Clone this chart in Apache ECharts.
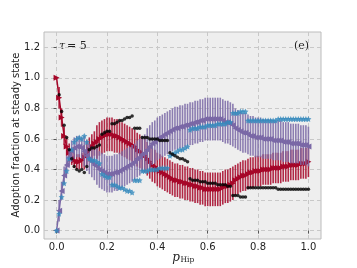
<!DOCTYPE html>
<html>
<head>
<meta charset="utf-8">
<script src="https://cdn.jsdelivr.net/npm/echarts@6/dist/echarts.min.js"></script>
<style>html,body{margin:0;padding:0;background:#fff}#c{width:357px;height:268px}</style>
</head>
<body>
<div id="c"></div>
<script>
var pHip = [
0.00,0.01,0.02,0.03,0.04,0.05,0.06,0.07,0.08,0.09,
0.10,0.11,0.12,0.13,0.14,0.15,0.16,0.17,0.18,0.19,
0.20,0.21,0.22,0.23,0.24,0.25,0.26,0.27,0.28,0.29,
0.30,0.31,0.32,0.33,0.34,0.35,0.36,0.37,0.38,0.39,
0.40,0.41,0.42,0.43,0.44,0.45,0.46,0.47,0.48,0.49,
0.50,0.51,0.52,0.53,0.54,0.55,0.56,0.57,0.58,0.59,
0.60,0.61,0.62,0.63,0.64,0.65,0.66,0.67,0.68,0.69,
0.70,0.71,0.72,0.73,0.74,0.75,0.76,0.77,0.78,0.79,
0.80,0.81,0.82,0.83,0.84,0.85,0.86,0.87,0.88,0.89,
0.90,0.91,0.92,0.93,0.94,0.95,0.96,0.97,0.98,0.99,
1.00];

var redMean = [
1.00,0.87,0.74,0.62,0.55,0.51,0.48,0.46,0.45,0.45,
0.46,0.48,0.51,0.53,0.55,0.57,0.58,0.60,0.61,0.62,
0.63,0.63,0.63,0.62,0.62,0.61,0.60,0.59,0.58,0.57,
0.56,0.55,0.53,0.52,0.50,0.49,0.47,0.45,0.43,0.42,
0.40,0.39,0.38,0.37,0.36,0.35,0.34,0.33,0.33,0.32,
0.32,0.31,0.31,0.30,0.30,0.29,0.29,0.28,0.28,0.27,
0.27,0.27,0.27,0.27,0.27,0.27,0.28,0.29,0.29,0.30,
0.31,0.33,0.34,0.35,0.36,0.36,0.37,0.38,0.38,0.39,
0.39,0.39,0.40,0.40,0.40,0.40,0.41,0.41,0.41,0.41,
0.42,0.42,0.42,0.43,0.43,0.43,0.43,0.44,0.44,0.44,
0.45];
var redErr = [
0.00,0.07,0.06,0.06,0.06,0.06,0.05,0.05,0.05,0.05,
0.05,0.08,0.08,0.08,0.08,0.08,0.11,0.11,0.11,0.11,
0.11,0.11,0.11,0.11,0.11,0.11,0.11,0.11,0.11,0.11,
0.11,0.11,0.11,0.11,0.11,0.11,0.11,0.11,0.11,0.11,
0.11,0.11,0.11,0.11,0.11,0.11,0.11,0.11,0.11,0.11,
0.11,0.11,0.11,0.11,0.11,0.11,0.11,0.11,0.11,0.11,
0.11,0.11,0.11,0.11,0.11,0.11,0.11,0.11,0.11,0.11,
0.11,0.10,0.10,0.10,0.10,0.10,0.10,0.10,0.10,0.10,
0.10,0.10,0.10,0.10,0.10,0.10,0.10,0.10,0.10,0.10,
0.10,0.10,0.10,0.10,0.10,0.10,0.10,0.10,0.10,0.10,
0.10];

var purpleMean = [
0.00,0.13,0.26,0.36,0.43,0.48,0.52,0.54,0.55,0.55,
0.54,0.52,0.49,0.47,0.45,0.43,0.42,0.40,0.39,0.38,
0.37,0.37,0.37,0.38,0.38,0.39,0.40,0.41,0.42,0.43,
0.44,0.45,0.47,0.48,0.50,0.51,0.53,0.55,0.57,0.58,
0.60,0.61,0.62,0.63,0.64,0.65,0.66,0.67,0.67,0.68,
0.68,0.69,0.69,0.70,0.70,0.71,0.71,0.72,0.72,0.73,
0.73,0.73,0.73,0.73,0.73,0.73,0.72,0.71,0.71,0.70,
0.69,0.67,0.66,0.65,0.64,0.64,0.63,0.62,0.62,0.61,
0.61,0.61,0.60,0.60,0.60,0.60,0.59,0.59,0.59,0.59,
0.58,0.58,0.58,0.57,0.57,0.57,0.57,0.56,0.56,0.56,
0.55];
var purpleErr = [
0.00,0.07,0.06,0.06,0.06,0.06,0.07,0.07,0.07,0.07,
0.07,0.10,0.10,0.10,0.10,0.10,0.12,0.12,0.12,0.12,
0.12,0.12,0.12,0.12,0.12,0.12,0.12,0.12,0.12,0.12,
0.12,0.12,0.12,0.12,0.12,0.12,0.14,0.14,0.14,0.14,
0.14,0.14,0.14,0.14,0.14,0.14,0.14,0.14,0.14,0.14,
0.14,0.14,0.14,0.14,0.14,0.14,0.14,0.14,0.14,0.14,
0.14,0.14,0.14,0.14,0.14,0.14,0.14,0.14,0.14,0.14,
0.14,0.13,0.13,0.13,0.13,0.13,0.13,0.13,0.13,0.13,
0.13,0.13,0.13,0.13,0.13,0.13,0.13,0.13,0.13,0.13,
0.13,0.13,0.13,0.13,0.13,0.13,0.13,0.13,0.13,0.13,
0.13];

var blueVals = [
0.00,0.11,0.22,0.31,0.39,0.47,0.53,0.58,0.60,0.61,
0.60,0.62,0.58,0.47,0.46,0.46,0.45,0.44,0.37,0.36,
0.35,0.35,0.30,0.30,0.29,0.28,0.28,0.27,0.26,0.26,
0.25,0.33,0.33,0.33,0.39,0.39,0.39,0.40,0.40,0.40,
0.40,0.41,0.41,0.41,0.41,0.49,0.50,0.51,0.52,0.53,
0.53,0.54,0.55,0.66,0.67,0.67,0.67,0.68,0.68,0.68,
0.69,0.69,0.69,0.69,0.70,0.70,0.70,0.70,0.71,0.71,
0.77,0.77,0.77,0.78,0.78,0.78,0.72,0.72,0.72,0.72,
0.72,0.72,0.72,0.72,0.72,0.72,0.72,0.72,0.73,0.73,
0.73,0.73,0.73,0.73,0.73,0.73,0.73,0.73,0.73,0.73,
0.73];

var blackVals = [
null,0.89,0.78,0.69,0.61,0.53,0.47,0.42,0.40,0.39,
0.40,0.38,0.42,0.53,0.54,0.54,0.55,0.56,0.63,0.64,
0.65,0.65,0.70,0.70,0.71,0.72,0.72,0.73,0.74,0.74,
0.75,0.67,0.67,0.67,0.61,0.61,0.61,0.60,0.60,0.60,
0.60,0.59,0.59,0.59,0.59,0.51,0.50,0.49,0.48,0.47,
0.47,0.46,0.45,0.34,0.33,0.33,0.33,0.32,0.32,0.32,
0.31,0.31,0.31,0.31,0.30,0.30,0.30,0.30,0.29,0.29,
0.23,0.23,0.23,0.22,0.22,0.22,0.28,0.28,0.28,0.28,
0.28,0.28,0.28,0.28,0.28,0.28,0.28,0.28,0.27,0.27,
0.27,0.27,0.27,0.27,0.27,0.27,0.27,0.27,0.27,0.27,
0.27];

var xTicks = [0.0, 0.2, 0.4, 0.6, 0.8, 1.0];
var yTicks = [0.0, 0.2, 0.4, 0.6, 0.8, 1.0, 1.2];

var RED = '#A60628', PURPLE = '#7A68A6', BLUE = '#348ABD', BLACK = '#000000';
var STAR = 'path://M0,-10L2.94,-4.05L9.51,-3.09L4.76,1.55L5.88,8.09L0,5L-5.88,8.09L-4.76,1.55L-9.51,-3.09L-2.94,-4.05Z';

function pairs(ys) {
  var out = [];
  pHip.forEach(function (x, i) { if (ys[i] !== null) out.push([x, ys[i]]); });
  return out;
}
function bars(ys, es) { return pHip.map(function (x, i) { return [x, ys[i] - es[i], ys[i] + es[i]]; }); }
function errSeries(ys, es, color, z) {
  return {
    type: 'custom', data: bars(ys, es), z: z, silent: true,
    renderItem: function (params, api) {
      var a = api.coord([api.value(0), api.value(1)]);
      var b = api.coord([api.value(0), api.value(2)]);
      return { type: 'line', shape: { x1: a[0], y1: a[1], x2: b[0], y2: b[1] },
        style: { stroke: color, lineWidth: 1.6, opacity: 0.85 } };
    }
  };
}

var chart = echarts.init(document.getElementById('c'), null, { renderer: 'canvas' });
var labelStyle = { fontFamily: 'DejaVu Sans', fontSize: 10, color: '#222' };
chart.setOption({
  animation: false,
  grid: { left: 44, right: 36, top: 32, bottom: 29, show: true, backgroundColor: '#eeeeee', borderColor: '#bcbcbc', borderWidth: 1 },
  xAxis: {
    type: 'value', min: -0.05, max: 1.05,
    axisLine: { show: false },
    axisTick: { show: true, length: 3, lineStyle: { color: '#555' }, customValues: xTicks },
    axisLabel: Object.assign({ margin: 3, customValues: xTicks, formatter: function (v) { return v.toFixed(1); } }, labelStyle),
    splitLine: { show: true, lineStyle: { color: '#c8c8c8', type: [4, 3], width: 1 } }
  },
  yAxis: {
    type: 'value', min: -0.055, max: 1.30,
    axisLine: { show: false },
    axisTick: { show: true, length: 3, lineStyle: { color: '#555' }, customValues: yTicks },
    axisLabel: Object.assign({ margin: 4, customValues: yTicks, formatter: function (v) { return v.toFixed(1); } }, labelStyle),
    splitLine: { show: true, lineStyle: { color: '#c8c8c8', type: [4, 3], width: 1 } }
  },
  series: [
    errSeries(redMean, redErr, RED, 2),
    { type: 'line', data: pairs(redMean), z: 3, symbol: 'triangle', symbolRotate: -90, symbolSize: 6, showAllSymbol: true,
      lineStyle: { color: RED, width: 1.5 }, itemStyle: { color: RED, borderWidth: 0 } },
    errSeries(purpleMean, purpleErr, PURPLE, 4),
    { type: 'line', data: pairs(purpleMean), z: 5, symbol: 'triangle', symbolRotate: 90, symbolSize: 6, showAllSymbol: true,
      lineStyle: { color: PURPLE, width: 1.5 }, itemStyle: { color: PURPLE, borderWidth: 0 } },
    { type: 'scatter', data: pairs(blueVals), z: 6, symbol: STAR, symbolSize: 6, itemStyle: { color: BLUE } },
    { type: 'scatter', data: pairs(blackVals), z: 7, symbol: 'circle', symbolSize: 3.5, itemStyle: { color: BLACK } }
  ],
  graphic: [
    { type: 'text', x: 16, y: 135, rotation: Math.PI / 2, style: { text: 'Adoption fraction at steady state', fontFamily: 'DejaVu Sans', fontSize: 10, fill: '#222', textAlign: 'center', textVerticalAlign: 'middle' } },
    { type: 'text', x: 180, y: 258, style: { text: 'p', fontFamily: 'DejaVu Serif', fontStyle: 'italic', fontSize: 12, fill: '#222', textAlign: 'right', textVerticalAlign: 'middle' } },
    { type: 'text', x: 180.5, y: 260, style: { text: 'Hip', fontFamily: 'DejaVu Serif', fontSize: 7.5, fill: '#222', textAlign: 'left', textVerticalAlign: 'middle' } },
    { type: 'text', x: 59, y: 46, style: { text: 'τ', fontFamily: 'DejaVu Serif', fontStyle: 'italic', fontSize: 11, fill: '#222', textAlign: 'left', textVerticalAlign: 'middle' } },
    { type: 'text', x: 67, y: 46, style: { text: '= 5', fontFamily: 'DejaVu Serif', fontSize: 11, fill: '#222', textAlign: 'left', textVerticalAlign: 'middle' } },
    { type: 'text', x: 309, y: 46, style: { text: '(e)', fontFamily: 'DejaVu Serif', fontSize: 11, fill: '#222', textAlign: 'right', textVerticalAlign: 'middle' } }
  ]
});
</script>
</body>
</html>
